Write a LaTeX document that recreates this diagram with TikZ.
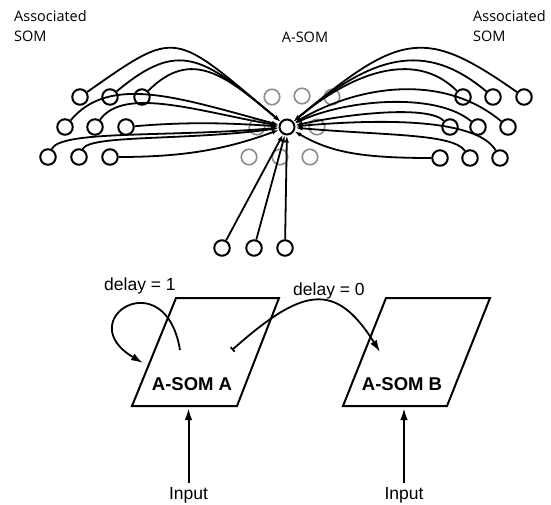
\documentclass[tikz,border=0pt]{standalone}
\usepackage{fontspec}
\setmainfont{Liberation Sans}
\newfontfamily\somfont{Open Sans}
\usetikzlibrary{arrows.meta}
\begin{document}
\begin{tikzpicture}[x=1pt,y=1pt,
  som/.style={circle,draw,line width=2pt,minimum size=15.5pt,inner sep=0pt},
  gsom/.style={som,draw=black!45,line width=1.6pt},
  link/.style={line width=1.8pt,-{Latex[length=7pt,width=4.5pt]}},
  toplbl/.style={inner sep=0pt,font=\somfont\fontsize{14.5}{20}\selectfont,align=left},
  boxlbl/.style={inner sep=0pt,font=\bfseries\fontsize{18.5}{22}\selectfont},
  txt/.style={inner sep=0pt,font=\fontsize{17.5}{21}\selectfont},
  somebox/.style={line width=2pt,line join=miter},
  bigarrow/.style={line width=2pt,-{Latex[length=12pt,width=7.5pt]}}]
\useasboundingbox (0,0) rectangle (551,-504);

% labels top
\node[toplbl,anchor=north west] (tl) at (14,-10) {Associated\\SOM};
\node[toplbl,anchor=north west] (tr) at (473,-10) {Associated\\SOM};
\node[toplbl,anchor=base] (ta) at (305,-42) {A-SOM};

% gray circles
\node[gsom] (G1a) at (272,-97) {};
\node[gsom] (G1b) at (302,-96) {};
\node[gsom] (G1c) at (332,-97) {};
\node[gsom] (G2a) at (257,-127) {};
\node[gsom] (G2c) at (317,-127) {};
\node[gsom] (G3a) at (249,-157) {};
\node[gsom] (G3b) at (280,-157) {};
\node[gsom] (G3c) at (310,-157) {};

% centre
\node[som,minimum size=15pt] (C) at (287,-127) {};

% left
\node[som] (L1a) at (80,-97) {};
\node[som] (L1b) at (110,-97) {};
\node[som] (L1c) at (142,-97) {};
\node[som] (L2a) at (65,-127) {};
\node[som] (L2b) at (95,-127) {};
\node[som] (L2c) at (126,-127) {};
\node[som] (L3a) at (48,-157) {};
\node[som] (L3b) at (79,-157) {};
\node[som] (L3c) at (110,-157) {};
% right
\node[som] (R1a) at (463,-97) {};
\node[som] (R1b) at (493,-97) {};
\node[som] (R1c) at (524,-97) {};
\node[som] (R2a) at (450,-127) {};
\node[som] (R2b) at (478,-127) {};
\node[som] (R2c) at (508,-127) {};
\node[som] (R3a) at (440,-158) {};
\node[som] (R3b) at (470,-158) {};
\node[som] (R3c) at (500,-158) {};
% bottom
\node[som] (B1) at (222,-248) {};
\node[som] (B2) at (254,-248) {};
\node[som] (B3) at (285,-248) {};

% left links
\draw[link] (L1a) .. controls +(35:120) and +(140:150) .. (C);
\draw[link] (L1b) .. controls +(40:90) and +(140:110) .. (C);
\draw[link] (L1c) .. controls +(45:70) and +(140:80) .. (C);
\draw[link] (L2a) .. controls +(50:70) and +(165:110) .. (C);
\draw[link] (L2b) .. controls +(55:50) and +(170:90) .. (C);
\draw[link] (L2c) .. controls +(5:60) and +(176:60) .. (C);
\draw[link] (L3a) .. controls +(65:30) and +(185:120) .. (C);
\draw[link] (L3b) .. controls +(65:25) and +(188:100) .. (C);
\draw[link] (L3c) .. controls +(0:80) and +(200:60) .. (C);
% right links
\draw[link] (R1c) .. controls +(145:120) and +(40:150) .. (C);
\draw[link] (R1b) .. controls +(140:90) and +(40:110) .. (C);
\draw[link] (R1a) .. controls +(135:70) and +(40:80) .. (C);
\draw[link] (R2c) .. controls +(140:80) and +(30:90) .. (C);
\draw[link] (R2b) .. controls +(140:55) and +(25:65) .. (C);
\draw[link] (R2a) .. controls +(135:30) and +(12:70) .. (C);
\draw[link] (R3c) .. controls +(120:40) and +(5:120) .. (C);
\draw[link] (R3b) .. controls +(125:30) and +(-5:100) .. (C);
\draw[link] (R3a) .. controls +(180:80) and +(-30:50) .. (C);
% bottom links
\draw[link] (B1) -- (C);
\draw[link] (B2) -- (C);
\draw[link] (B3) -- (C);

% lower part
\coordinate (A1) at (176,-298);
\coordinate (A2) at (279,-298);
\coordinate (A3) at (237,-406);
\coordinate (A4) at (132,-406);
\coordinate (Bb1) at (386,-298);
\coordinate (Bb2) at (490,-298);
\coordinate (Bb3) at (447,-406);
\coordinate (Bb4) at (343,-406);
\draw[somebox] (A1) -- (A2) -- (A3) -- (A4) -- cycle;
\draw[somebox] (Bb1) -- (Bb2) -- (Bb3) -- (Bb4) -- cycle;
\node[boxlbl,anchor=base] (SA) at (192,-390) {A-SOM A};
\node[boxlbl,anchor=base] (SB) at (402,-390) {A-SOM B};

\node[txt,anchor=base west] (d1) at (104,-290) {delay = 1};
\node[txt,anchor=base west] (d0) at (293,-295) {delay = 0};

\node[txt,anchor=base] (InA) at (188.5,-499) {Input};
\node[txt,anchor=base] (InB) at (404,-499) {Input};
\coordinate (InAt) at (188.5,-408);
\coordinate (InBt) at (404,-408);
\draw[bigarrow] ([yshift=4pt]InA.north) -- (InAt);
\draw[bigarrow] ([yshift=4pt]InB.north) -- (InBt);

\coordinate (LoopS) at (180,-350);
\coordinate (LoopE) at (143,-363);
\draw[bigarrow,line width=1.8pt] (LoopS) .. controls (165,-260) and (70,-320) .. (LoopE);
\coordinate (D0s) at (232,-350);
\coordinate (D0e) at (380,-352);
\draw[line width=1.8pt,{Bar[width=6pt]}-{Latex[length=12pt,width=7.5pt]}] (D0s) .. controls (302,-288) and (335,-280) .. (D0e);
\end{tikzpicture}
\end{document}
